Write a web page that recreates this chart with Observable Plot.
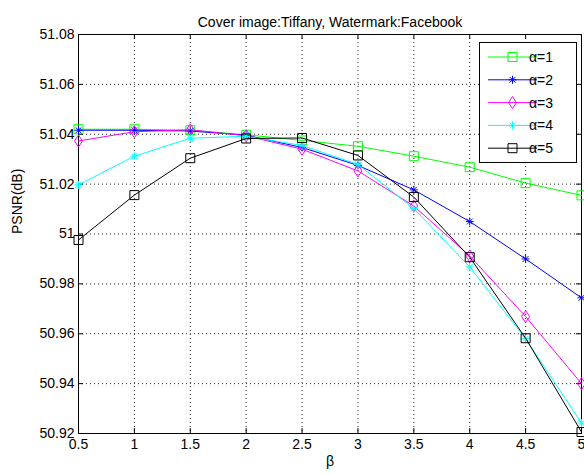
<!DOCTYPE html>
<html>
<head>
<meta charset="utf-8">
<script src="https://cdn.jsdelivr.net/npm/d3@7"></script>
<script src="https://cdn.jsdelivr.net/npm/@observablehq/plot@0.6"></script>
<style>
  html, body { margin: 0; padding: 0; background: #fff; }
</style>
</head>
<body>
<div id="chart"></div>
<script>
// ---- data ----
const beta = [0.5, 1, 1.5, 2, 2.5, 3, 3.5, 4, 4.5, 5];
const alpha1 = [51.0420, 51.0420, 51.0416, 51.0398, 51.0375, 51.0352, 51.0312, 51.0268, 51.0204, 51.0155];
const alpha2 = [51.0416, 51.0416, 51.0413, 51.0396, 51.0347, 51.0275, 51.0177, 51.0050, 50.9900, 50.9744];
const alpha3 = [51.0373, 51.0410, 51.0418, 51.0394, 51.0340, 51.0253, 51.0112, 50.9912, 50.9669, 50.9400];
const alpha4 = [51.0197, 51.0312, 51.0384, 51.0392, 51.0355, 51.0279, 51.0102, 50.9868, 50.9580, 50.9242];
const alpha5 = [50.9976, 51.0156, 51.0304, 51.0383, 51.0385, 51.0315, 51.0148, 50.9907, 50.9582, 50.9206];
const seriesNames = ["α=1", "α=2", "α=3", "α=4", "α=5"];
const xTicks = [0.5, 1, 1.5, 2, 2.5, 3, 3.5, 4, 4.5, 5];
const yTicks = [50.92, 50.94, 50.96, 50.98, 51, 51.02, 51.04, 51.06, 51.08];
const titleText = "Cover image:Tiffany, Watermark:Facebook";
const xLabel = "β";
const yLabel = "PSNR(dB)";

// ---- styles ----
const colors = ["#00ff00", "#0000ff", "#ff00ff", "#00ffff", "#000000"];
const sq = {draw(c) { const h = 4.5; c.moveTo(-h, -h); c.lineTo(h, -h); c.lineTo(h, h); c.lineTo(-h, h); c.closePath(); }};
const star = {draw(c) { const a = 4, b = a * 0.72;
  c.moveTo(-a, 0); c.lineTo(a, 0); c.moveTo(0, -a); c.lineTo(0, a);
  c.moveTo(-b, -b); c.lineTo(b, b); c.moveTo(-b, b); c.lineTo(b, -b); }};
const dia = {draw(c) { c.moveTo(0, -6); c.lineTo(4, 0); c.lineTo(0, 6); c.lineTo(-4, 0); c.closePath(); }};
const symbols = [sq, star, dia, star, sq];

const allSeries = [alpha1, alpha2, alpha3, alpha4, alpha5];
const rows = [];
allSeries.forEach((vals, i) => vals.forEach((v, j) => rows.push({beta: beta[j], psnr: v, s: seriesNames[i], i})));

const W = 584, H = 475, ML = 78, MR = 3, MT = 34, MB = 42;
const innerW = W - ML - MR, innerH = H - MT - MB;
const tick = 5;

const marks = [
  Plot.gridX(xTicks.slice(1, -1), {stroke: "#000", strokeOpacity: 0.85, strokeDasharray: "1,3"}),
  Plot.gridY(yTicks.slice(1, -1), {stroke: "#000", strokeOpacity: 0.85, strokeDasharray: "1,3"}),
  Plot.ruleX(xTicks, {x: d => d, stroke: "#000", insetTop: innerH - tick}),
  Plot.ruleX(xTicks, {x: d => d, stroke: "#000", insetBottom: innerH - tick}),
  Plot.ruleY(yTicks, {y: d => d, stroke: "#000", insetRight: innerW - tick}),
  Plot.ruleY(yTicks, {y: d => d, stroke: "#000", insetLeft: innerW - tick}),
  Plot.frame({stroke: "#000"}),
  Plot.axisX(xTicks, {tickSize: 0, tickPadding: 6, tickFormat: d => String(d), label: null}),
  Plot.axisY(yTicks, {tickSize: 0, tickPadding: 4, tickFormat: d => String(d), label: null}),
];
seriesNames.forEach((name, i) => {
  const data = rows.filter(r => r.i === i);
  marks.push(Plot.line(data, {x: "beta", y: "psnr", stroke: colors[i], strokeWidth: 1}));
  marks.push(Plot.dot(data, {x: "beta", y: "psnr", stroke: colors[i], fill: "none", symbol: symbols[i], r: 5, strokeWidth: 1}));
});
marks.push(Plot.text([titleText], {frameAnchor: "top", dy: -17, text: d => d, fill: "#000"}));
marks.push(Plot.text([xLabel], {frameAnchor: "bottom", dy: 32, text: d => d, fill: "#000"}));
marks.push(Plot.text([yLabel], {frameAnchor: "left", dx: -61, rotate: -90, text: d => d, fill: "#000"}));

const chart = Plot.plot({
  width: W, height: H,
  marginLeft: ML, marginRight: MR, marginTop: MT, marginBottom: MB,
  x: {domain: [0.5, 5]},
  y: {domain: [50.92, 51.08]},
  style: {fontFamily: "'Liberation Sans', Arial, sans-serif", fontSize: "14px", background: "#fff", color: "#000"},
  marks
});
document.getElementById("chart").appendChild(chart);

// ---- legend ----
const svg = d3.select(chart);
const lg = svg.append("g").attr("font-family", "'Liberation Sans', Arial, sans-serif").attr("font-size", 14);
lg.append("rect").attr("x", 479.5).attr("y", 42.5).attr("width", 97).attr("height", 120)
  .attr("fill", "#fff").attr("stroke", "#000");
seriesNames.forEach((name, i) => {
  const y = 57 + i * 22.8;
  lg.append("line").attr("x1", 488).attr("x2", 537).attr("y1", y).attr("y2", y).attr("stroke", colors[i]);
  lg.append("path").attr("d", d3.symbol(symbols[i])()).attr("transform", `translate(512.5,${y})`)
    .attr("fill", "none").attr("stroke", colors[i]);
  lg.append("text").attr("x", 541).attr("y", y).attr("dy", "0.35em").text(name);
});
</script>
</body>
</html>
